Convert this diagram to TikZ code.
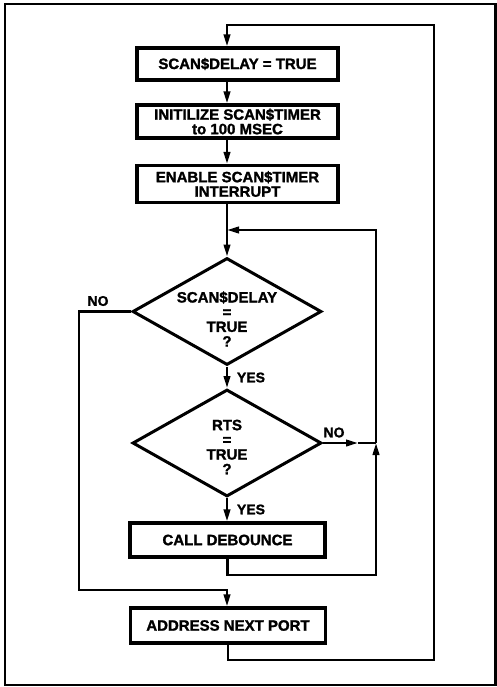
\documentclass[tikz,border=0pt]{standalone}
\usepackage{fontspec}
\setmainfont{Liberation Sans}[BoldFeatures={FakeBold=1.5}]
\usetikzlibrary{shapes.geometric,arrows.meta}
\begin{document}
\begin{tikzpicture}[x=1pt,y=-1pt,
 box/.style={draw,line width=3.2pt,minimum width=201pt,inner sep=0pt,align=center,font=\fontsize{15}{14.5}\selectfont\bfseries},
 dia/.style={draw,diamond,line width=3pt,minimum width=189pt,minimum height=107pt,inner sep=0pt},
 dtext/.style={align=center,font=\fontsize{15}{14.7}\selectfont\bfseries,inner sep=0pt},
 lbl/.style={font=\fontsize{14}{14}\selectfont\bfseries,inner sep=0pt},
 conn/.style={line width=2.4pt},
 arr/.style={conn,-{Triangle[length=12pt,width=6.5pt]}},
]
\useasboundingbox (0,0) rectangle (497,687);
\draw[line width=2.4pt] (5,4) rectangle (495.5,685);

\node[box,minimum height=32pt] (b1) at (237.5,64) {SCAN\$DELAY = TRUE};
\node[box,minimum height=33pt] (b2) at (237.5,121.5) {INITILIZE SCAN\$TIMER\\to 100 MSEC};
\node[box,minimum height=37pt] (b3) at (237.5,184) {ENABLE SCAN\$TIMER\\INTERRUPT};
\node[dia] (d1) at (227,311.5) {};
\node[dtext] (d1t) at (227,319) {SCAN\$DELAY\\=\\TRUE\\?};
\node[dia] (d2) at (227,443) {};
\node[dtext] (d2t) at (227,447) {RTS\\=\\TRUE\\?};
\node[box,minimum width=195pt,minimum height=34pt] (c) at (227.5,540) {CALL DEBOUNCE};
\node[box,minimum width=195pt,minimum height=35pt] (a) at (228,625.5) {ADDRESS NEXT PORT};

\coordinate (tr) at (434,25);
\coordinate (br) at (434,660);
\coordinate (j) at (227,230);
\coordinate (rt) at (376,230);
\coordinate (rm) at (376,443);
\coordinate (rb) at (376,575);
\coordinate (nom) at (358,443);
\coordinate (lt) at (79,311.5);
\coordinate (lb) at (79,590);
\coordinate (am) at (227,590);

\draw[arr] (a.south) -- (a.south |- br) -- (br) -- (tr) -- (tr -| d1) -- (b1.north -| d1);
\draw[arr] (b1.south -| d1) -- (b2.north -| d1);
\draw[arr] (b2.south -| d1) -- (b3.north -| d1);
\draw[arr] (b3.south -| d1) -- (d1.north);
\draw[arr] (d1.south) -- (d2.north);
\draw[arr] (d2.south) -- (c.north -| d2);
\draw[arr] (d2.east) -- (nom);
\draw[conn] (nom) -- (rm);
\draw[arr] (c.south) -- (c.south |- rb) -- (rb) -- (rm);
\draw[arr] (rm) -- (rt) -- (j);
\draw[arr] (d1.west) -- (lt) -- (lb) -- (am) -- (a.north -| am);

\node[lbl] (no1) at (98,301) {NO};
\node[lbl] (yes1) at (251,377.5) {YES};
\node[lbl] (no2) at (334,432.5) {NO};
\node[lbl] (yes2) at (251,509.5) {YES};
\end{tikzpicture}
\end{document}
